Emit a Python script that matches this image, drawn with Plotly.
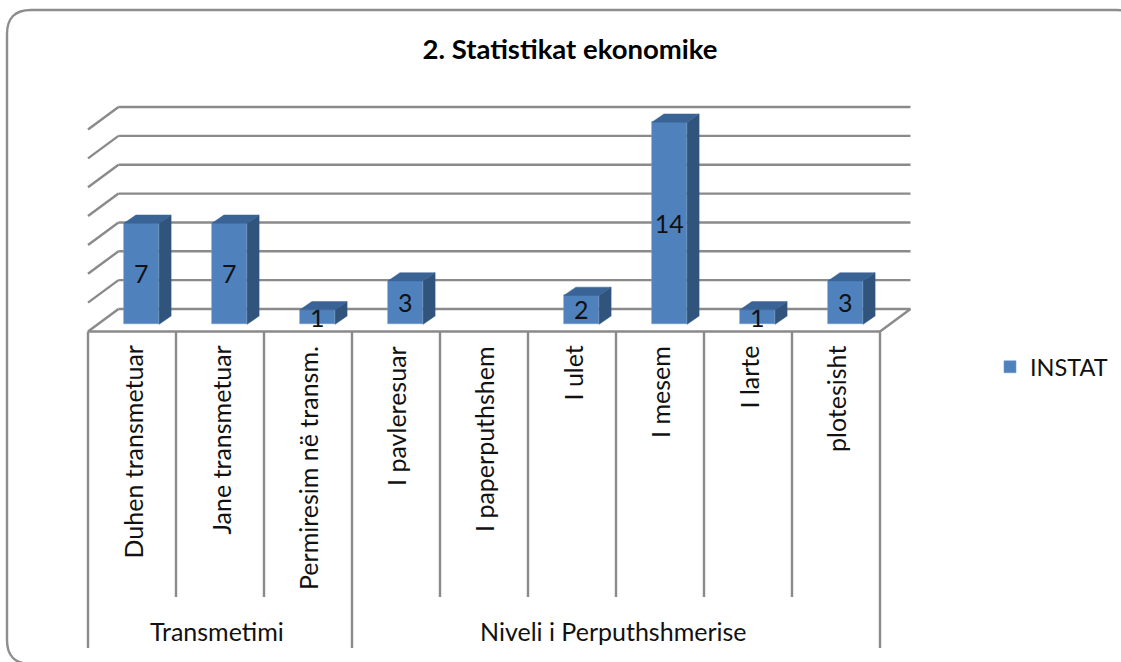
import plotly.graph_objects as go

TITLE = "2. Statistikat ekonomike"
SERIES = "INSTAT"
categories = ["Duhen transmetuar", "Jane transmetuar", "Permiresim në transm.", "I pavleresuar",
              "I paperputhshem", "I ulet", "I mesem", "I larte", "plotesisht"]
values = [7, 7, 1, 3, None, 2, 14, 1, 3]
groups = ["Transmetimi", "Niveli i Perputhshmerise"]
group_spans = [(0, 3), (3, 9)]
grid_ticks = [0, 2, 4, 6, 8, 10, 12, 14]

W, H = 1121, 662
PX_X, PX_Y = 88.0, 14.43      # pixels per category / per value
X0, Y0 = 88.0, 324.3          # pixel position of x=0, y=0
xr = [-X0 / PX_X, (W - X0) / PX_X]
yr = [(Y0 - H) / PX_Y, Y0 / PX_Y]

FRONT, SIDE, TOP = "#4f81bd", "#31547d", "#3a6396"
GRID = "#8a8a8a"
FONT = "Lato"
TXT = "#111111"

# oblique projection of the floor, in data units
FLOOR_Y = -0.5
BACK_DX, BACK_DY = 30.5 / PX_X, 22.5 / PX_Y
BAR_W, BAR_OFF = 0.40, 0.608
D_X, D_Y = 12 / PX_X, 8.3 / PX_Y
n = len(categories)

shapes = []
def seg(x0, y0, x1, y1, width=2.4, color=GRID):
    shapes.append(dict(type="line", xref="x", yref="y", x0=x0, y0=y0, x1=x1, y1=y1,
                       layer="below", line=dict(color=color, width=width)))

for t in grid_ticks:
    yb = t + FLOOR_Y + BACK_DY
    seg(BACK_DX, yb, n + BACK_DX, yb)
    seg(0, t + FLOOR_Y, BACK_DX, yb)
seg(n, FLOOR_Y, n + BACK_DX, FLOOR_Y + BACK_DY)
seg(0, FLOOR_Y, n, FLOOR_Y)

# separators under the floor
SHORT_Y, LONG_Y = (Y0 - 597) / PX_Y, (Y0 - 648) / PX_Y
long_edges = {e for s in group_spans for e in s}
for i in range(n + 1):
    seg(i, FLOOR_Y, i, LONG_Y if i in long_edges else SHORT_Y)

# outer rounded frame (paper coordinates)
def px(x): return x / W
def py(y): return 1 - y / H
L, T, R, B, r = 7, 10, 1140, 664, 24
frame = (f"M {px(L)} {py(T + r)} Q {px(L)} {py(T)} {px(L + r)} {py(T)} L {px(R - r)} {py(T)} "
         f"Q {px(R)} {py(T)} {px(R)} {py(T + r)} L {px(R)} {py(B - r)} Q {px(R)} {py(B)} {px(R - r)} {py(B)} "
         f"L {px(L + r)} {py(B)} Q {px(L)} {py(B)} {px(L)} {py(B - r)} Z")
shapes.append(dict(type="path", xref="paper", yref="paper", path=frame, layer="below",
                   line=dict(color="#8e8e8e", width=2.4)))

fig = go.Figure()
xs = [i + BAR_OFF for i in range(n)]
fig.add_trace(go.Bar(x=xs, y=values, width=BAR_W, name=SERIES,
                     marker=dict(color=FRONT, line=dict(color="#6f9ad0", width=0.6)),
                     text=[str(v) if v is not None else "" for v in values],
                     textposition="inside", insidetextanchor="middle", textangle=0,
                     constraintext="none", cliponaxis=False,
                     textfont=dict(family=FONT, size=25, color=TXT),
                     hoverinfo="skip"))

for x, v in zip(xs, values):
    if v is None:
        continue
    l, rr = x - BAR_W / 2, x + BAR_W / 2
    fig.add_trace(go.Scatter(x=[rr, rr + D_X, rr + D_X, rr, rr], y=[0, D_Y, v + D_Y, v, 0],
                             mode="lines", fill="toself", fillcolor=SIDE, line=dict(color=SIDE, width=0.5),
                             showlegend=False, hoverinfo="skip"))
    fig.add_trace(go.Scatter(x=[l, l + D_X, rr + D_X, rr, l], y=[v, v + D_Y, v + D_Y, v, v],
                             mode="lines", fill="toself", fillcolor=TOP, line=dict(color=TOP, width=0.5),
                             showlegend=False, hoverinfo="skip"))

annotations = []
LABEL_TOP = (Y0 - 344) / PX_Y
for i, c in enumerate(categories):
    annotations.append(dict(x=i + 0.5, y=LABEL_TOP, xref="x", yref="y", text=c, textangle=-90, showarrow=False,
                            xanchor="center", yanchor="top", font=dict(family=FONT, size=25, color=TXT)))
GROUP_Y = (Y0 - 631) / PX_Y
for g, (a, b) in zip(groups, group_spans):
    annotations.append(dict(x=(a + b) / 2 - 0.03, y=GROUP_Y, xref="x", yref="y", text=g, showarrow=False,
                            xanchor="center", yanchor="middle", font=dict(family=FONT, size=25, color=TXT)))

fig.update_layout(
    width=W, height=H, margin=dict(l=0, r=0, t=0, b=0), autosize=False,
    paper_bgcolor="white", plot_bgcolor="white",
    title=dict(text=f"<b>{TITLE}</b>", x=570 / W, xanchor="center", y=1 - 49 / H, yanchor="middle",
               font=dict(family=FONT, size=27.5, color="#000000")),
    xaxis=dict(range=xr, visible=False, fixedrange=True),
    yaxis=dict(range=yr, visible=False, fixedrange=True),
    legend=dict(x=990 / W, y=1 - 367 / H, xanchor="left", yanchor="middle", bgcolor="rgba(0,0,0,0)",
                font=dict(family=FONT, size=23.5, color=TXT)),
    showlegend=True, shapes=shapes, annotations=annotations, bargap=0,
)
fig.write_html("out.html", config={"displayModeBar": False},
               post_script="document.body.style.margin='0';document.body.style.overflow='hidden';")
